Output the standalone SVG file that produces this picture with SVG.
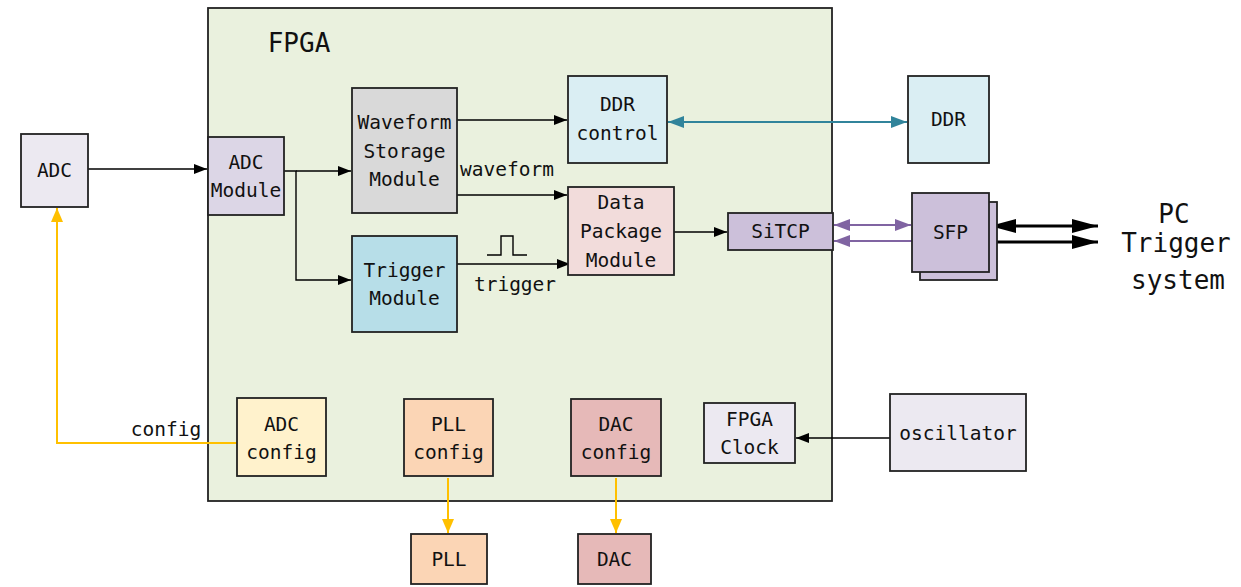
<svg xmlns="http://www.w3.org/2000/svg" width="1241" height="587" viewBox="0 0 1241 587">
<style>
.box{stroke:#222;stroke-width:1.8}
.t{font-family:"DejaVu Sans Mono","Liberation Mono",monospace;font-size:19.5px;fill:#111;text-anchor:middle}
.big{font-size:26px}
.ln{fill:none;stroke:#000;stroke-width:1.4}
.yl{fill:none;stroke:#FFC000;stroke-width:2}
.pu{fill:none;stroke:#8064A2;stroke-width:2}
.te{fill:none;stroke:#31849B;stroke-width:2}
.th{fill:none;stroke:#000;stroke-width:3.2}
</style>
<defs>
<marker id="ab" markerUnits="userSpaceOnUse" markerWidth="14" markerHeight="10" refX="13" refY="5" orient="auto-start-reverse"><path d="M0,0 L13,5 L0,10 Z" fill="#000"/></marker>
<marker id="ay" markerUnits="userSpaceOnUse" markerWidth="14" markerHeight="12" refX="14" refY="6" orient="auto-start-reverse"><path d="M0,0 L14,6 L0,12 Z" fill="#FFC000"/></marker>
<marker id="ap" markerUnits="userSpaceOnUse" markerWidth="16" markerHeight="12" refX="16" refY="6" orient="auto-start-reverse"><path d="M0,0 L16,6 L0,12 Z" fill="#8064A2"/></marker>
<marker id="at" markerUnits="userSpaceOnUse" markerWidth="16" markerHeight="12" refX="16" refY="6" orient="auto-start-reverse"><path d="M0,0 L16,6 L0,12 Z" fill="#31849B"/></marker>
<marker id="ak" markerUnits="userSpaceOnUse" markerWidth="26" markerHeight="14" refX="26" refY="7" orient="auto-start-reverse"><path d="M0,0 L26,7 L0,14 Z" fill="#000"/></marker>
</defs>

<g id="fpga">
<rect class="box" x="208" y="8" width="624" height="493" fill="#EAF1DE"/>
<text class="t big" x="299" y="52">FPGA</text>
</g>

<g id="connectors">
<line class="ln" x1="88" y1="169" x2="207" y2="169" marker-end="url(#ab)"/>
<polyline class="ln" points="284,171 296,171 296,280 351,280" marker-end="url(#ab)"/>
<line class="ln" x1="296" y1="171" x2="351" y2="171" marker-end="url(#ab)"/>
<line class="ln" x1="457" y1="120" x2="567" y2="120" marker-end="url(#ab)"/>
<line class="ln" x1="457" y1="195" x2="567" y2="195" marker-end="url(#ab)"/>
<line class="ln" x1="457" y1="264" x2="570" y2="264" marker-end="url(#ab)"/>
<polyline class="ln" points="487,255 501,255 501,236 513,236 513,255 527,255"/>
<line class="ln" x1="674" y1="232" x2="727" y2="232" marker-end="url(#ab)"/>
<line class="te" x1="668" y1="122" x2="907" y2="122" marker-start="url(#at)" marker-end="url(#at)"/>
<line class="pu" x1="834" y1="225" x2="911" y2="225" marker-start="url(#ap)" marker-end="url(#ap)"/>
<line class="pu" x1="912" y1="241" x2="834" y2="241" marker-end="url(#ap)"/>
<line class="th" x1="990" y1="226" x2="1098" y2="226" marker-start="url(#ak)" marker-end="url(#ak)"/>
<line class="th" x1="990" y1="242" x2="1098" y2="242" marker-end="url(#ak)"/>
<polyline class="yl" points="237,443 57,443 57,208" marker-end="url(#ay)"/>
<line class="yl" x1="448" y1="478" x2="448" y2="533" marker-end="url(#ay)"/>
<line class="yl" x1="616" y1="478" x2="616" y2="533" marker-end="url(#ay)"/>
<line class="ln" x1="890" y1="438" x2="796" y2="438" marker-end="url(#ab)"/>
<text class="t" x="507" y="176">waveform</text>
<text class="t" x="515" y="291">trigger</text>
<text class="t" x="166" y="436">config</text>
</g>

<g id="adc">
<rect class="box" x="21" y="134" width="67" height="73" fill="#ECE9F1"/>
<text class="t" x="54.5" y="177">ADC</text>
</g>
<g id="adc-module">
<rect class="box" x="208" y="137" width="76" height="78" fill="#DCD6E6"/>
<text class="t" x="246" y="169">ADC</text>
<text class="t" x="246" y="197">Module</text>
</g>
<g id="waveform-storage">
<rect class="box" x="352" y="88" width="105" height="125" fill="#D9D9D9"/>
<text class="t" x="404.5" y="129">Waveform</text>
<text class="t" x="404.5" y="158">Storage</text>
<text class="t" x="404.5" y="186">Module</text>
</g>
<g id="trigger-module">
<rect class="box" x="352" y="236" width="105" height="96" fill="#B7DEE8"/>
<text class="t" x="404.5" y="277">Trigger</text>
<text class="t" x="404.5" y="305">Module</text>
</g>
<g id="ddr-control">
<rect class="box" x="568" y="76" width="99" height="87" fill="#DAEEF3"/>
<text class="t" x="617.5" y="111">DDR</text>
<text class="t" x="617.5" y="140">control</text>
</g>
<g id="data-package">
<rect class="box" x="568" y="187" width="106" height="88" fill="#F2DCDB"/>
<text class="t" x="621" y="209">Data</text>
<text class="t" x="621" y="238">Package</text>
<text class="t" x="621" y="267">Module</text>
</g>
<g id="sitcp">
<rect class="box" x="728" y="213" width="105" height="37" fill="#CCC0DA"/>
<text class="t" x="780.5" y="238">SiTCP</text>
</g>
<g id="ddr">
<rect class="box" x="908" y="76" width="81" height="87" fill="#DAEEF3"/>
<text class="t" x="948.5" y="126">DDR</text>
</g>
<g id="sfp">
<rect class="box" x="920" y="202" width="77" height="78" fill="#CCC0DA" stroke-width="1.2"/>
<rect class="box" x="912" y="193" width="77" height="79" fill="#CCC0DA" stroke-width="1.2"/>
<text class="t" x="950.5" y="239">SFP</text>
</g>
<g id="pc-trigger-system">
<text class="t big" x="1174" y="223">PC</text>
<text class="t big" x="1176" y="252">Trigger</text>
<text class="t big" x="1178" y="289">system</text>
</g>
<g id="adc-config">
<rect class="box" x="237" y="398" width="89" height="78" fill="#FFF2CC"/>
<text class="t" x="281.5" y="431">ADC</text>
<text class="t" x="281.5" y="459">config</text>
</g>
<g id="pll-config">
<rect class="box" x="404" y="399" width="89" height="77" fill="#FBD5B5"/>
<text class="t" x="448.5" y="431">PLL</text>
<text class="t" x="448.5" y="459">config</text>
</g>
<g id="pll">
<rect class="box" x="411" y="534" width="76" height="50" fill="#FBD5B5"/>
<text class="t" x="449" y="566">PLL</text>
</g>
<g id="dac-config">
<rect class="box" x="571" y="399" width="90" height="77" fill="#E6B9B8"/>
<text class="t" x="616" y="431">DAC</text>
<text class="t" x="616" y="459">config</text>
</g>
<g id="dac">
<rect class="box" x="578" y="534" width="73" height="50" fill="#E6B9B8"/>
<text class="t" x="614.5" y="566">DAC</text>
</g>
<g id="fpga-clock">
<rect class="box" x="704" y="403" width="91" height="60" fill="#ECE9F1"/>
<text class="t" x="749.5" y="426">FPGA</text>
<text class="t" x="749.5" y="454">Clock</text>
</g>
<g id="oscillator">
<rect class="box" x="890" y="394" width="136" height="77" fill="#ECE9F1"/>
<text class="t" x="958" y="440">oscillator</text>
</g>
</svg>
